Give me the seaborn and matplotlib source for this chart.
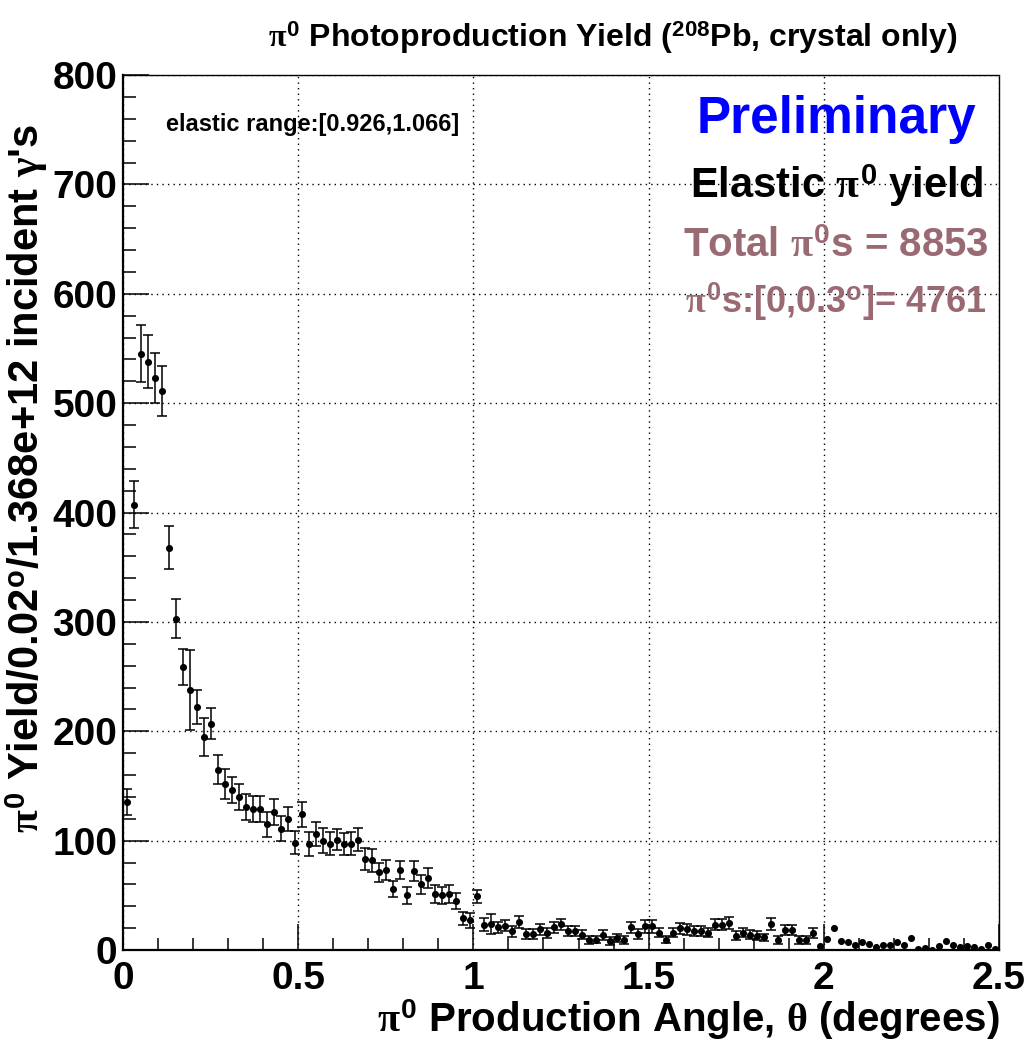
import matplotlib

matplotlib.use("Agg")

import matplotlib.pyplot as plt
import numpy as np
import pandas as pd
import seaborn as sns
from matplotlib.ticker import MultipleLocator

# Histogram binning: 0.02 degree bins from 0 to 2.5 degrees.
bin_width = 0.02
x_min, x_max = 0.0, 2.5

# Yield per bin.
yields = [
    135, 407, 545, 538, 523, 511, 368, 303, 259, 238,
    222, 195, 207, 165, 152, 146, 140, 131, 129, 129,
    115, 126, 111, 120, 98, 124, 97, 106, 100, 97,
    101, 97, 97, 101, 83, 82, 71, 73, 56, 73,
    50, 72, 60, 66, 51, 50, 51, 45, 29, 27,
    49, 23, 24, 21, 22, 17, 26, 15, 15, 19,
    15.5, 21, 23.5, 17.5, 17, 14, 9, 9.5, 14, 8.5,
    11, 9, 21, 15, 21.5, 21.5, 16, 9.5, 16, 20,
    19, 17.5, 17.5, 16, 23, 23, 25, 13, 16, 14,
    13, 11.5, 24, 9, 18, 18, 9, 9, 15.5, 3.5,
    10, 20.5, 8, 7.5, 5, 7.5, 5.5, 2.5, 4.5, 4.5,
    7.5, 4.5, 11, 1, 2, 0, 4, 8, 5, 3,
    3.5, 3, 1, 5, 0.5,
]

# Statistical error per bin (half length of the error bar).
errors = [
    12, 21.5, 26, 24, 23, 22.5, 20, 18, 16.5, 36.5,
    15.5, 17.5, 14.5, 13, 13.5, 12, 12, 12, 12, 12,
    11.5, 12, 11.5, 11, 10.5, 11.5, 11, 11, 11.5, 10.5,
    10, 10, 10.5, 10.5, 10, 10.5, 9, 9, 7.5, 8,
    8, 9, 8.5, 9, 8, 8, 8, 7.5, 6, 6.5,
    6, 6, 9, 5, 5, 5, 5.5, 4.5, 4.5, 5,
    4.5, 5, 5, 4.5, 4.5, 4, 3.5, 3.5, 4.5, 3.5,
    4, 3.5, 5, 4.5, 5.5, 5.5, 4.5, 3.5, 4.5, 5,
    5, 4.5, 4.5, 4.5, 5, 5, 5.5, 4, 4.5, 4,
    4, 3.5, 5.5, 3.5, 4.5, 4.5, 3.5, 3.5, 4.5, 2,
    3, 3, 3, 3, 2.5, 3, 2.5, 2, 2.5, 2.5,
    3, 2.5, 3, 1.5, 2, 1, 2, 3, 2.5, 2,
    2, 2, 1.5, 2.5, 1,
]

y_ticks = [0, 100, 200, 300, 400, 500, 600, 700, 800]
x_ticks = [0, 0.5, 1, 1.5, 2, 2.5]

title_text = r"$\pi^{\mathbf{0}}$ Photoproduction Yield ($^{\mathbf{208}}$Pb, crystal only)"
x_label = r"$\pi^{\mathbf{0}}$ Production Angle, $\theta$ (degrees)"
y_label = r"$\pi^{\mathbf{0}}$ Yield/0.02$^{\mathbf{o}}$/1.368e+12 incident $\gamma$'s"
range_text = "elastic range:[0.926,1.066]"
info_lines = [
    ("Preliminary", "#0000ff", 37),
    (r"Elastic $\pi^{\mathbf{0}}$ yield", "black", 30),
    (r"Total $\pi^{\mathbf{0}}$s = 8853", "#9a6a72", 29),
    (r"$\pi^{\mathbf{0}}$s:[0,0.3$^{\mathbf{o}}$]= 4761", "#9a6a72", 26),
]


def main() -> None:
    sns.set_theme(style="ticks")
    plt.rcParams["font.family"] = ["Liberation Sans", "DejaVu Sans"]
    plt.rcParams["font.weight"] = "bold"
    plt.rcParams["mathtext.fontset"] = "custom"
    plt.rcParams["mathtext.rm"] = "Liberation Sans:bold"
    plt.rcParams["mathtext.bf"] = "Liberation Sans:bold"
    plt.rcParams["mathtext.it"] = "Liberation Serif"
    for key in ["text.color", "axes.labelcolor", "xtick.color", "ytick.color"]:
        plt.rcParams[key] = "black"

    n_bins = len(yields)
    centers = x_min + bin_width * (np.arange(n_bins) + 0.5)
    df = pd.DataFrame({"angle": centers, "yield": yields, "err": errors})

    W, H = 1034, 1047
    fig = plt.figure(figsize=(W / 100, H / 100), dpi=100)
    ax = fig.add_axes([123 / W, 1 - 950 / H, (999 - 123) / W, (950 - 75) / H])

    # Error bars only where they stick out of the marker (ROOT style).
    shown = df[df["err"] > 3.2]
    ax.errorbar(
        shown["angle"], shown["yield"], yerr=shown["err"],
        fmt="none", ecolor="black", elinewidth=1.1, capsize=3.6, capthick=1.1,
        zorder=2,
    )
    sns.scatterplot(
        data=df, x="angle", y="yield", ax=ax,
        color="black", s=26, linewidth=0, zorder=3, legend=False,
    )

    ax.set_xlim(x_min, x_max)
    ax.set_ylim(y_ticks[0], y_ticks[-1])
    ax.set_xticks(x_ticks)
    ax.set_xticklabels([f"{t:g}" for t in x_ticks])
    ax.set_yticks(y_ticks)
    ax.xaxis.set_minor_locator(MultipleLocator(0.1))
    ax.yaxis.set_minor_locator(MultipleLocator(20))
    ax.tick_params(axis="both", which="major", direction="in", length=19,
                   width=1.1, labelsize=28, color="black", labelcolor="black")
    ax.tick_params(axis="both", which="minor", direction="in", length=9,
                   width=1.1, color="black")
    ax.tick_params(axis="y", which="major", pad=4)
    ax.tick_params(axis="x", which="major", pad=8)
    for lab in ax.get_xticklabels() + ax.get_yticklabels():
        lab.set_fontweight("bold")
    ax.set_xlabel("")
    ax.set_ylabel("")

    # Dotted grid at the major ticks; dotted frame on top and right.
    ax.grid(True, which="major", linestyle=(0, (1, 3)), color="black", linewidth=1)
    for side in ["left", "bottom"]:
        ax.spines[side].set_linewidth(1.6)
        ax.spines[side].set_color("black")
    for side in ["top", "right"]:
        ax.spines[side].set_linewidth(1)
        ax.spines[side].set_linestyle((0, (1, 1)))
        ax.spines[side].set_color("black")

    # Titles and labels placed as in the ROOT canvas.
    fig.text(613 / W, 1 - 38 / H, title_text, ha="center", va="center",
             fontsize=23, fontweight="bold")
    fig.text(1000 / W, 1 - 1020 / H, x_label, ha="right", va="center",
             fontsize=29, fontweight="bold")
    fig.text(27 / W, 1 - 478 / H, y_label, ha="center", va="center",
             rotation=90, fontsize=30, fontweight="bold")

    fig.text(313 / W, 1 - 124 / H, range_text, ha="center", va="center",
             fontsize=17, fontweight="bold")
    y_positions = [120, 186, 246, 302]
    for (txt, col, size), ypos in zip(info_lines, y_positions):
        fig.text(836 / W, 1 - ypos / H, txt, ha="center", va="center",
                 fontsize=size, fontweight="bold", color=col)

    fig.savefig("out.png", dpi=100)
    plt.close(fig)


if __name__ == "__main__":
    main()
